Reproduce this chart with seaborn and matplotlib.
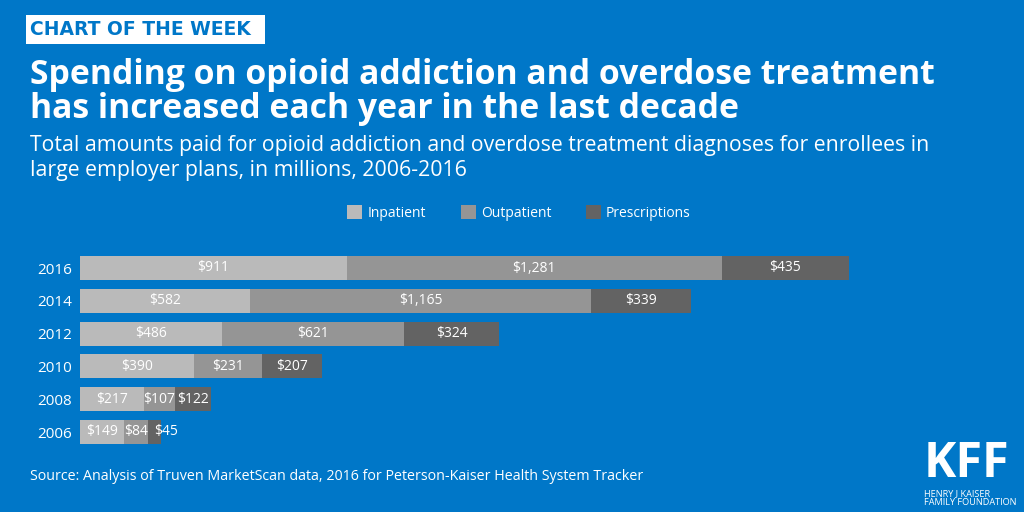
import matplotlib
matplotlib.use("Agg")
import matplotlib.pyplot as plt
from matplotlib.patches import Patch, Rectangle
import numpy as np
import pandas as pd
import seaborn as sns

# ── Data ────────────────────────────────────────────────────────────────────
YEARS = ['2016', '2014', '2012', '2010', '2008', '2006']
INPATIENT = [911, 582, 486, 390, 217, 149]
OUTPATIENT = [1281, 1165, 621, 231, 107, 84]
PRESCRIPTIONS = [435, 339, 324, 207, 122, 45]
SERIES = ['Inpatient', 'Outpatient', 'Prescriptions']

# ── Style ───────────────────────────────────────────────────────────────────
BG = '#0077c8'
COLORS = {'Inpatient': '#bababa', 'Outpatient': '#959595', 'Prescriptions': '#636363'}
W, H = 1024, 512

sns.set_theme(style='white')
plt.rcParams['font.family'] = ['Open Sans', 'DejaVu Sans']

df = pd.DataFrame({
    'year': YEARS,
    'Inpatient': INPATIENT,
    'Outpatient': OUTPATIENT,
    'Prescriptions': PRESCRIPTIONS,
})
df['end_in'] = df['Inpatient']
df['end_out'] = df['end_in'] + df['Outpatient']
df['end_rx'] = df['end_out'] + df['Prescriptions']

fig = plt.figure(figsize=(W / 100, H / 100), dpi=100, facecolor=BG)
total_max = df['end_rx'].max()
ax = fig.add_axes([80 / W, 1 - 448.4 / H, 769 / W, 196.8 / H])
ax.set_facecolor(BG)

# stacked bars: draw the cumulative totals back to front
for col, name in [('end_rx', 'Prescriptions'), ('end_out', 'Outpatient'), ('end_in', 'Inpatient')]:
    sns.barplot(data=df, x=col, y='year', order=YEARS, color=COLORS[name],
                width=0.73, saturation=1, linewidth=0, ax=ax, orient='h')

# segment labels (a too-narrow last segment gets its label nudged right)
starts = {'Inpatient': np.zeros(len(df)), 'Outpatient': df['end_in'].values,
          'Prescriptions': df['end_out'].values}
for name in SERIES:
    for i, (s, v) in enumerate(zip(starts[name], df[name].values)):
        if name == 'Prescriptions' and v < 60:
            ax.annotate(f'${v:,}', (s, i), xytext=(4, 0), textcoords='offset points',
                        ha='left', va='center', color='white', fontsize=10)
        else:
            ax.text(s + v / 2, i, f'${v:,}', ha='center', va='center',
                    color='white', fontsize=10)

ax.set_xlim(0, total_max)
ax.set_ylim(len(YEARS) - 0.5, -0.5)
ax.set_xlabel('')
ax.set_ylabel('')
ax.set_xticks([])
ax.tick_params(axis='y', length=0, labelsize=11, labelcolor='white', pad=6)
sns.despine(ax=ax, left=True, bottom=True)

# legend
handles = [Patch(facecolor=COLORS[n], edgecolor='none', label=n) for n in SERIES]
fig.legend(handles=handles, loc='center', bbox_to_anchor=(519 / W, 1 - 213 / H),
           ncol=3, frameon=False, fontsize=10, labelcolor='white',
           handlelength=1.1, handleheight=1.1, handletextpad=0.35, columnspacing=2.5)

# header
fig.patches.append(Rectangle((26 / W, 1 - 44 / H), 239 / W, 29 / H,
                             transform=fig.transFigure, facecolor='white',
                             edgecolor='none'))
fig.text(30 / W, 1 - 29.5 / H, 'CHART OF THE WEEK', color=BG, fontsize=13.5,
         fontweight='bold', va='center', ha='left', family='DejaVu Sans')
fig.text(30 / W, 1 - 92 / H,
         'Spending on opioid addiction and overdose treatment\n'
         'has increased each year in the last decade',
         color='white', fontsize=24.3, fontweight='bold', va='center',
         ha='left', linespacing=0.98)
fig.text(30 / W, 1 - 158 / H,
         'Total amounts paid for opioid addiction and overdose treatment diagnoses for enrollees in\n'
         'large employer plans, in millions, 2006-2016',
         color='white', fontsize=15.3, va='center', ha='left', linespacing=1.28)

# footer
fig.text(30 / W, 1 - 477 / H,
         'Source: Analysis of Truven MarketScan data, 2016 for Peterson-Kaiser Health System Tracker',
         color='white', fontsize=10.3, va='center', ha='left')
fig.text(966 / W, 1 - 489 / H, 'KFF', color='white', fontsize=35,
         fontweight='bold', va='bottom', ha='center')
fig.text(924 / W, 1 - 489 / H, 'HENRY J KAISER\nFAMILY FOUNDATION', color='white',
         fontsize=6.6, va='top', ha='left', linespacing=1.0)

fig.savefig('out.png', dpi=100, facecolor=BG)
